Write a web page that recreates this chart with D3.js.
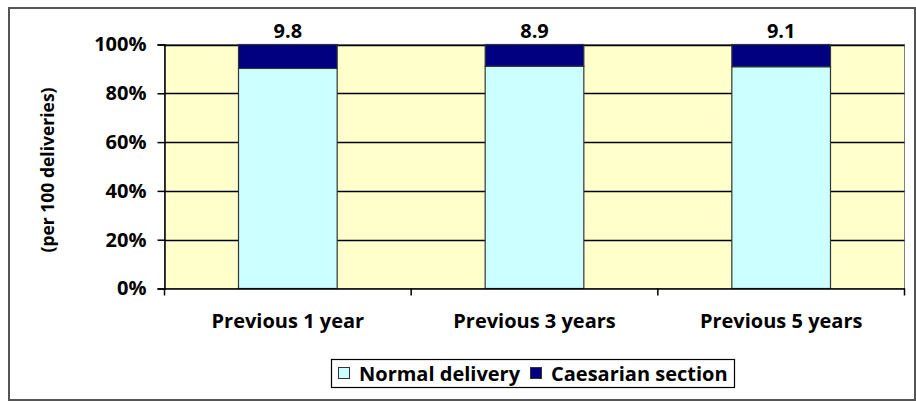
<!DOCTYPE html>
<html><head><meta charset="utf-8">
<script src="https://cdn.jsdelivr.net/npm/d3@7"></script>
<style>body{margin:0;background:#fff}svg{display:block}text{font-family:"Open Sans",sans-serif;font-weight:bold;fill:#000}</style>
</head><body>
<script>
const categories = ["Previous 1 year", "Previous 3 years", "Previous 5 years"];
const normal = [90.2, 91.1, 90.9];
const caesarian = [9.8, 8.9, 9.1];
const seriesNames = ["Normal delivery", "Caesarian section"];
const yTicks = [0, 20, 40, 60, 80, 100];

const W = 916, H = 401;
const m = {l: 164.5, r: 904.5, t: 44.5, b: 288.5};
const FONT = '"Open Sans", sans-serif';
const svg = d3.select("body").append("svg").attr("width", W).attr("height", H);

// outer border
svg.append("rect").attr("x", 9).attr("y", 8).attr("width", 906).attr("height", 392)
  .attr("fill", "#fff").attr("stroke", "#555").attr("stroke-width", 2);

const x = d3.scaleBand().domain(categories).range([m.l, m.r]).paddingInner(0.6).paddingOuter(0.3);
const y = d3.scaleLinear().domain([0, 100]).range([m.b, m.t]);

// plot background
svg.append("rect").attr("x", m.l).attr("y", m.t).attr("width", m.r - m.l).attr("height", m.b - m.t)
  .attr("fill", "#FFFFCC").attr("stroke", "#808080").attr("stroke-width", 1);

// gridlines
svg.append("g").selectAll("line").data(yTicks.filter(d => d > 0)).join("line")
  .attr("x1", m.l).attr("x2", m.r).attr("y1", d => Math.round(y(d)) + 0.5).attr("y2", d => Math.round(y(d)) + 0.5)
  .attr("stroke", "#000").attr("stroke-width", 1.5);

// bars
const data = categories.map((c, i) => ({c, n: normal[i], cs: caesarian[i]}));
const g = svg.append("g");
g.selectAll(".n").data(data).join("rect")
  .attr("x", d => x(d.c)).attr("width", x.bandwidth())
  .attr("y", d => y(d.n)).attr("height", d => y(0) - y(d.n))
  .attr("fill", "#CCFFFF").attr("stroke", "#333").attr("stroke-width", 1.2);
g.selectAll(".c").data(data).join("rect")
  .attr("x", d => x(d.c)).attr("width", x.bandwidth())
  .attr("y", d => y(d.n + d.cs)).attr("height", d => y(d.n) - y(d.n + d.cs))
  .attr("fill", "#000080").attr("stroke", "#333").attr("stroke-width", 1.2);

// data labels
svg.append("g").selectAll("text").data(data).join("text")
  .attr("x", d => x(d.c) + x.bandwidth() / 2).attr("y", 38)
  .attr("text-anchor", "middle").style("font-size", "20px")
  .text(d => d.cs.toFixed(1));

// y axis
const ya = svg.append("g").attr("transform", `translate(${m.l},0)`)
  .call(d3.axisLeft(y).tickValues(yTicks).tickFormat(d => d + "%").tickSize(7).tickPadding(11));
ya.select(".domain").attr("stroke", "#000").attr("stroke-width", 1.5);
ya.selectAll(".tick line").attr("stroke", "#000").attr("stroke-width", 1.5);
ya.selectAll(".tick text").style("font-size", "20px").style("font-family", FONT).attr("fill", "#000");

// x axis
const xa = svg.append("g").attr("transform", `translate(0,${m.b})`)
  .call(d3.axisBottom(x).tickSize(0).tickPadding(25));
xa.select(".domain").attr("stroke", "#000").attr("stroke-width", 1.5);
xa.selectAll(".tick text").style("font-size", "20px").style("font-family", FONT).attr("fill", "#000");
const bounds = [0, 1, 2, 3].map(i => m.l + i * (m.r - m.l) / 3);
svg.append("g").selectAll("line").data(bounds).join("line")
  .attr("x1", d => d).attr("x2", d => d).attr("y1", m.b).attr("y2", m.b + 7)
  .attr("stroke", "#000").attr("stroke-width", 1.5);

// y title
svg.append("text").attr("transform", `translate(54,170) rotate(-90)`)
  .attr("text-anchor", "middle").style("font-size", "17.5px").text("(per 100 deliveries)");

// legend
const lg = svg.append("g");
lg.append("rect").attr("x", 331.5).attr("y", 359.5).attr("width", 403).attr("height", 28)
  .attr("fill", "#fff").attr("stroke", "#000").attr("stroke-width", 1.2);
const lItems = [{name: seriesNames[0], color: "#CCFFFF", x: 338}, {name: seriesNames[1], color: "#000080", x: 530}];
lItems.forEach(it => {
  lg.append("rect").attr("x", it.x + 0.5).attr("y", 367.5).attr("width", 11).attr("height", 11)
    .attr("fill", it.color).attr("stroke", "#333");
  lg.append("text").attr("x", it.x + 21).attr("y", 381).style("font-size", "20px").text(it.name);
});
</script>
</body></html>
